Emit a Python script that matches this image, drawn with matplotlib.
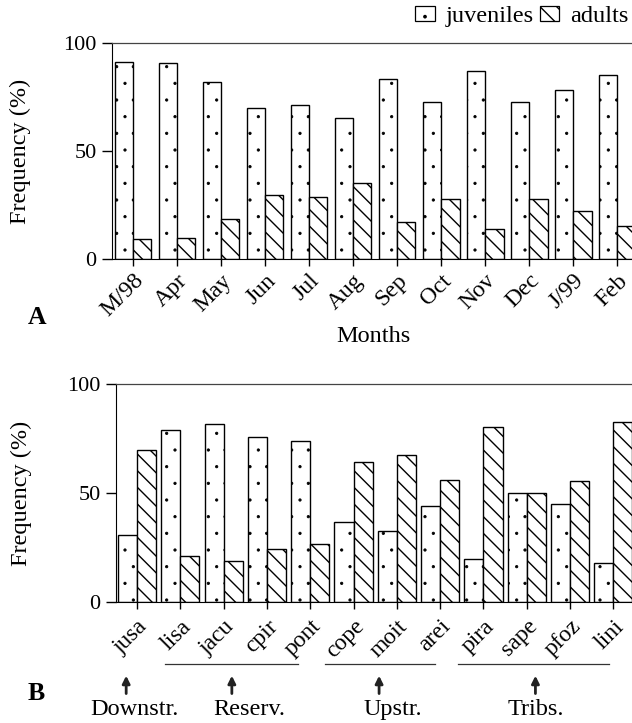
import matplotlib.pyplot as plt
import matplotlib.hatch
from matplotlib.patches import Patch
import numpy as np

plt.rcParams['font.family'] = ['Liberation Serif', 'DejaVu Serif']

# smaller stipple dots, like the scanned figure
matplotlib.hatch.SmallFilledCircles.size = 0.07

# panel A: by month
months = ['M/98', 'Apr', 'May', 'Jun', 'Jul', 'Aug', 'Sep', 'Oct', 'Nov', 'Dec', 'J/99', 'Feb']
juv_months = [91.2, 90.6, 82.1, 70.0, 71.4, 65.2, 83.5, 72.6, 87.0, 72.6, 78.4, 85.0]
adu_months = [9.3, 9.7, 18.4, 29.8, 28.9, 35.1, 17.0, 27.7, 13.8, 28.0, 22.3, 15.5]

# panel B: by site
sites = ['jusa', 'lisa', 'jacu', 'cpir', 'pont', 'cope', 'moit', 'arei', 'pira', 'sape', 'pfoz', 'lini']
juv_sites = [30.7, 78.7, 81.7, 75.5, 73.8, 36.5, 32.4, 44.2, 19.9, 49.8, 45.1, 18.1]
adu_sites = [69.8, 21.0, 18.7, 24.4, 26.5, 64.1, 67.6, 56.0, 80.5, 49.8, 55.4, 82.4]

# site groups (label, arrow x, underline start, underline end) in group units
groups = ['Downstr.', 'Reserv.', 'Upstr.', 'Tribs.']
group_arrow_x = [-0.25, 2.19, 5.59, 9.2]
group_text_x = [-0.05, 2.6, 5.9, 9.2]
group_lines = [None, (0.65, 3.72), (4.34, 6.88), (7.41, 10.9)]

fs = 17.5
JUV_HATCH = '.'
ADU_HATCH = '\\\\'

fig = plt.figure(figsize=(6.32, 7.23), dpi=100)
axA = fig.add_axes([112/632, 1-259/723, 1-112/632, 216/723])
axB = fig.add_axes([116/632, 1-602/723, 1-116/632, 218/723])


def draw(ax, labels, juv, adu, w, xlim, pad):
    x = np.arange(len(labels))
    plt.rcParams['hatch.linewidth'] = 0.6
    ax.bar(x - w/2, juv, w, color='white', edgecolor='black', lw=1.0, hatch=JUV_HATCH)
    plt.rcParams['hatch.linewidth'] = 1.0
    ax.bar(x + w/2, adu, w, color='white', edgecolor='black', lw=1.0, hatch=ADU_HATCH)
    ax.set_xlim(*xlim)
    ax.set_ylim(0, 100)
    ax.set_yticks([0, 50, 100])
    ax.tick_params(axis='y', length=7, width=1, labelsize=16, pad=4)
    ax.tick_params(axis='x', length=5, width=1, labelsize=fs - 0.5, pad=pad)
    ax.set_xticks(x)
    ax.set_xticklabels(labels, rotation=45, ha='right', va='top', rotation_mode='anchor')
    ax.spines['right'].set_visible(False)
    ax.spines['top'].set_color('#444444')
    ax.spines['top'].set_linewidth(0.9)
    ax.set_ylabel('Frequency (%)', fontsize=fs)


draw(axA, months, juv_months, adu_months, 0.42, (-0.477, 11.34), 3)
draw(axB, sites, juv_sites, adu_sites, 0.44, (-0.485, 11.43), 5)
axA.yaxis.set_label_coords(-0.155, 0.5)
axB.yaxis.set_label_coords(-0.163, 0.5)

axA.set_xlabel('Months', fontsize=fs)
axA.xaxis.set_label_coords((373-112)/520, (259-326)/216)

fig.text(37/632, 1-317/723, 'A', fontsize=fs+1, fontweight='bold', ha='center', va='center')
fig.text(36/632, 1-693/723, 'B', fontsize=fs+1, fontweight='bold', ha='center', va='center')

# legend
plt.rcParams['hatch.linewidth'] = 0.6
h_juv = Patch(facecolor='white', edgecolor='black', hatch=JUV_HATCH, lw=0.9)
plt.rcParams['hatch.linewidth'] = 1.0
h_adu = Patch(facecolor='white', edgecolor='black', hatch=ADU_HATCH, lw=0.9)
fig.legend([h_juv, h_adu], ['juveniles', 'adults'], loc='upper right',
           bbox_to_anchor=(1.018, 1.012), ncol=2, frameon=False, fontsize=fs,
           handlelength=0.8, handleheight=0.55, handletextpad=0.45, columnspacing=0.25,
           borderaxespad=0.2)

# site groups under panel B
tr = axB.get_xaxis_transform()
for name, ax_x, tx, ln in zip(groups, group_arrow_x, group_text_x, group_lines):
    if ln is not None:
        axB.plot([ln[0], ln[1]], [-0.284, -0.284], color='#333333', lw=0.9,
                 transform=tr, clip_on=False)
    axB.annotate('', xy=(ax_x, -0.338), xytext=(ax_x, -0.42), xycoords=tr, textcoords=tr,
                 arrowprops=dict(arrowstyle='-|>', lw=2, color='#222222', mutation_scale=11,
                                 shrinkA=0, shrinkB=0), annotation_clip=False)
    axB.text(tx, -0.495, name, transform=tr, ha='center', va='center', fontsize=fs)

fig.savefig('out.png', dpi=100)
